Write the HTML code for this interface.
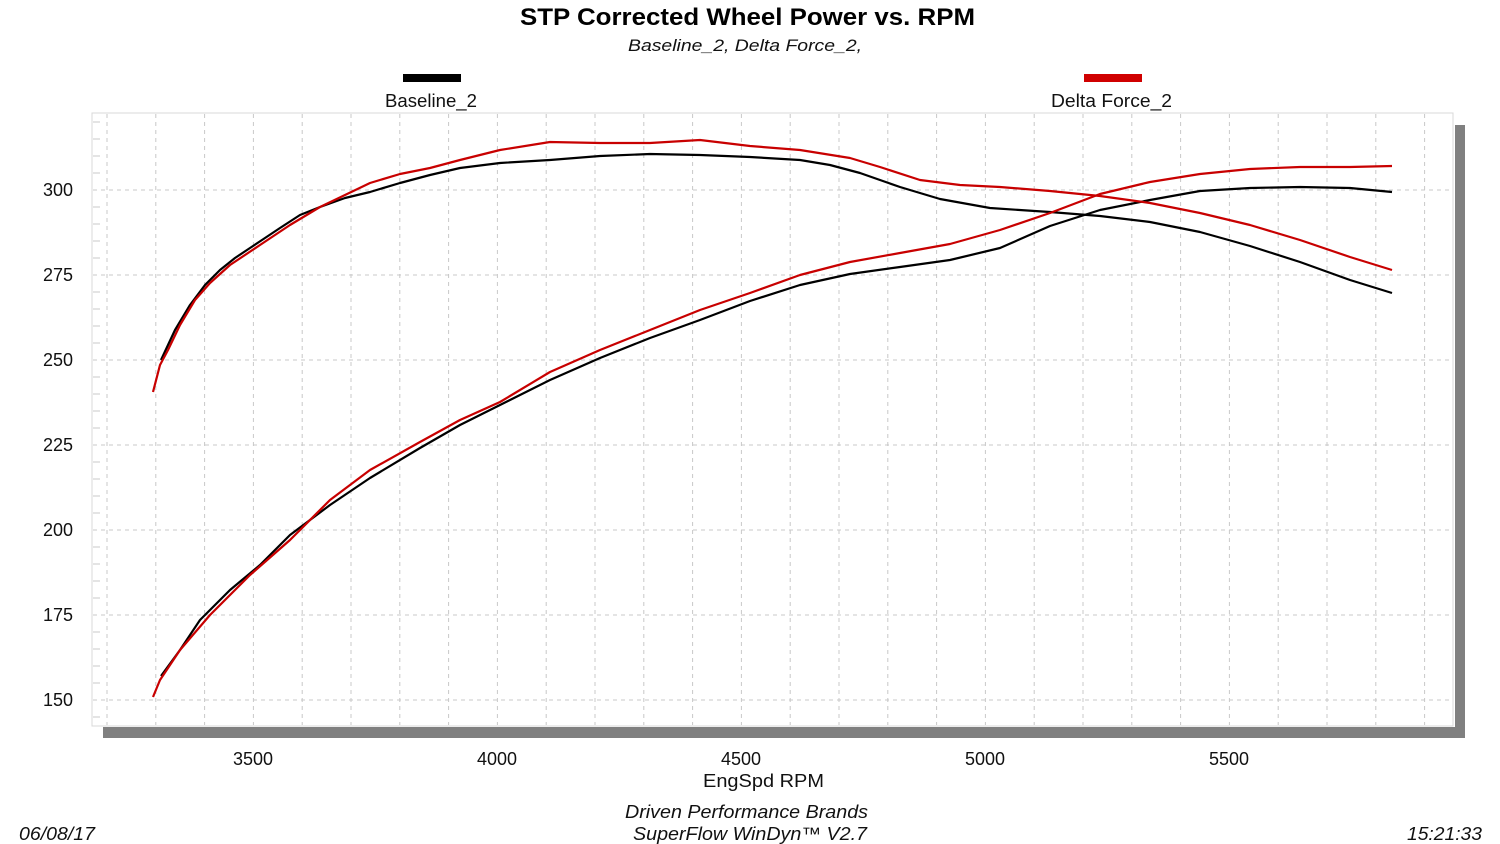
<!DOCTYPE html>
<html><head><meta charset="utf-8"><style>
html,body{margin:0;padding:0;background:#fff;}
svg{display:block;font-family:"Liberation Sans",Arial,sans-serif;}
</style></head><body>
<svg id="s" width="1500" height="844" viewBox="0 0 1500 844" xmlns="http://www.w3.org/2000/svg">
<rect width="1500" height="844" fill="#fff"/>
<text x="520" y="25" font-size="24" font-weight="bold" fill="#000" textLength="455" lengthAdjust="spacingAndGlyphs">STP Corrected Wheel Power vs. RPM</text>
<text x="628" y="51" font-size="17" font-style="italic" fill="#111" textLength="234" lengthAdjust="spacingAndGlyphs">Baseline_2, Delta Force_2,</text>
<rect x="403" y="74" width="58" height="8" fill="#000"/>
<text x="385" y="107" font-size="18" fill="#111" textLength="92" lengthAdjust="spacingAndGlyphs">Baseline_2</text>
<rect x="1084" y="74" width="58" height="8" fill="#d00000"/>
<text x="1051" y="107" font-size="18" fill="#111" textLength="121" lengthAdjust="spacingAndGlyphs">Delta Force_2</text>
<!-- shadow -->
<rect x="1455" y="125" width="10" height="613" fill="#808080"/>
<rect x="103" y="727" width="1362" height="11" fill="#808080"/>
<rect x="92" y="113" width="1361" height="613" fill="#fff" stroke="#d8d8d8" stroke-width="1"/>
<g id="grid" stroke="#c8c8c8" stroke-width="1" stroke-dasharray="4,4"></g>
<g font-size="18" fill="#111" text-anchor="end">
<text x="73" y="196">300</text><text x="73" y="281">275</text><text x="73" y="366">250</text>
<text x="73" y="451">225</text><text x="73" y="536">200</text><text x="73" y="621">175</text><text x="73" y="706">150</text>
</g>
<g font-size="18" fill="#111" text-anchor="middle">
<text x="253" y="765">3500</text><text x="497" y="765">4000</text><text x="741" y="765">4500</text>
<text x="985" y="765">5000</text><text x="1229" y="765">5500</text>
</g>
<text x="703" y="787" font-size="18" fill="#111" textLength="121" lengthAdjust="spacingAndGlyphs">EngSpd  RPM</text>
<g font-size="18" fill="#111" font-style="italic">
<text x="625" y="818" textLength="243" lengthAdjust="spacingAndGlyphs">Driven Performance Brands</text>
<text x="633" y="840" textLength="234" lengthAdjust="spacingAndGlyphs">SuperFlow WinDyn™  V2.7</text>
<text x="19" y="840" textLength="76" lengthAdjust="spacingAndGlyphs">06/08/17</text>
<text x="1407" y="840" textLength="75" lengthAdjust="spacingAndGlyphs">15:21:33</text>
</g>
<g fill="none" stroke-width="2.2" stroke-linejoin="round">
<polyline stroke="#000" points="161,360 175,330 190,305 205,285 220,270 235,258 250,248 265,238 280,228 300,215 320,207 345,198 370,192 400,183 430,175 460,168 500,163 550,160 600,156 650,154 700,155 750,157 800,160 830,165 860,173 900,187 940,199 990,208 1050,212 1100,216 1150,222 1200,232 1250,246 1300,262 1350,280 1392,293"/>
<polyline stroke="#000" points="161,676 180,650 200,620 230,590 260,565 290,535 330,505 370,478 420,448 460,425 500,405 550,380 600,358 650,338 700,320 750,301 800,285 850,274 900,267 950,260 1000,248 1050,226 1100,210 1150,200 1200,191 1250,188 1300,187 1350,188 1392,192"/>
<polyline stroke="#c80000" points="153,392 160,365 168,350 180,325 195,300 210,283 230,265 260,245 290,225 320,207 345,195 370,183 400,174 430,168 460,160 500,150 550,142 600,143 650,143 700,140 750,146 800,150 850,158 880,167 920,180 960,185 1000,187 1050,191 1100,196 1150,203 1200,213 1250,225 1300,240 1350,257 1392,270"/>
<polyline stroke="#c80000" points="153,697 160,680 180,650 210,615 250,575 290,540 330,500 370,470 420,442 460,420 500,402 550,372 600,350 650,330 700,310 750,293 800,275 850,262 900,253 950,244 1000,230 1050,213 1100,194 1150,182 1200,174 1250,169 1300,167 1350,167 1392,166"/>
</g>
</svg>
<script>
var g=document.getElementById('grid'),ns='http://www.w3.org/2000/svg';
function L(a,b,c,d,dash){var l=document.createElementNS(ns,'line');l.setAttribute('x1',a);l.setAttribute('y1',b);l.setAttribute('x2',c);l.setAttribute('y2',d);if(dash===0)l.setAttribute('stroke-dasharray','none');g.appendChild(l);}
for(var k=0;k<28;k++){var x=107+48.8*k;L(x,114,x,725);}
for(var v=150;v<=300;v+=25){var y=190+(300-v)*3.4;L(93,y,1452,y);}
for(var v=145;v<=320;v+=5){if(v%25==0)continue;var y=190+(300-v)*3.4;if(y>114&&y<725)L(93,y,100,y,0);}
</script>
</body></html>
